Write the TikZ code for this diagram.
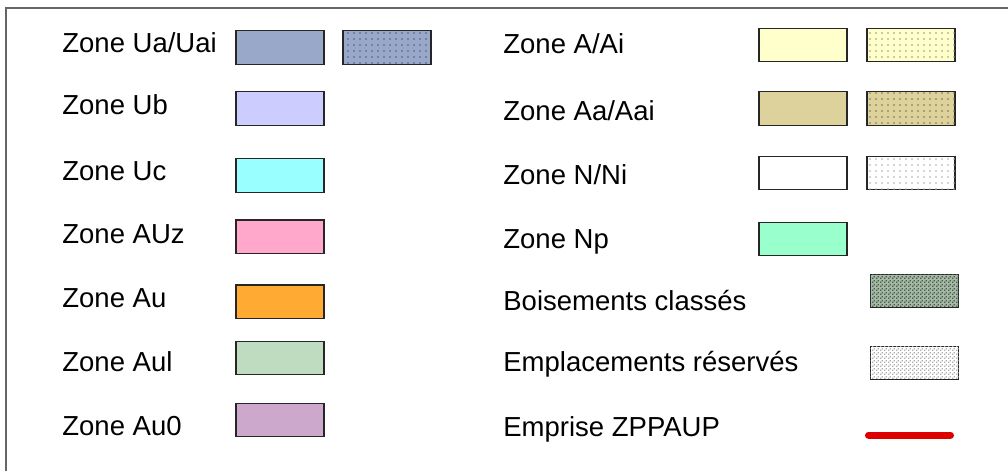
\documentclass[tikz,border=0pt]{standalone}
\usepackage{fontspec}
\setmainfont{Liberation Sans}
\usetikzlibrary{patterns.meta}

\definecolor{zUa}{RGB}{153,168,200}
\definecolor{zUb}{RGB}{204,204,255}
\definecolor{zUc}{RGB}{153,255,255}
\definecolor{zAUz}{RGB}{255,168,204}
\definecolor{zAu}{RGB}{255,170,51}
\definecolor{zAul}{RGB}{192,220,192}
\definecolor{zAuz}{RGB}{204,168,204}
\definecolor{zA}{RGB}{255,255,204}
\definecolor{zAa}{RGB}{221,210,155}
\definecolor{zN}{RGB}{255,255,255}
\definecolor{zNp}{RGB}{153,255,204}
\definecolor{zBois}{RGB}{165,185,165}
\definecolor{zppaup}{RGB}{221,0,0}
\definecolor{dUai}{RGB}{80,90,130}
\definecolor{dAi}{RGB}{150,150,120}
\definecolor{dAai}{RGB}{120,110,70}
\definecolor{dNi}{RGB}{170,170,170}
\definecolor{dBois}{RGB}{70,90,75}
\definecolor{dEmpl}{RGB}{175,175,175}

\tikzdeclarepattern{
  name=zonedots,
  type=uncolored,
  bounding box={(-0.5pt,-0.5pt) and (0.5pt,0.5pt)},
  tile size={(3pt,3pt)},
  code={\fill (0pt,0pt) circle (0.4pt);}
}
\tikzdeclarepattern{
  name=woods,
  type=uncolored,
  bounding box={(0pt,0pt) and (2pt,2pt)},
  tile size={(2pt,2pt)},
  code={\fill (0pt,0pt) rectangle (0.8pt,0.8pt); \fill (1pt,1pt) rectangle (1.8pt,1.8pt);}
}

\def \boxw {44pt}
\def \boxh {16.8pt}
\def \leftx {62}
\def \rightx {503}
\tikzstyle{legend}=[anchor=base west, inner sep=0pt, font=\fontsize{13.75}{16}\selectfont]
\tikzstyle{zonebox}=[rectangle, draw=black!85, line width=0.6pt, minimum width=\boxw, minimum height=\boxh, inner sep=0pt]
\tikzset{hatched/.style={postaction={pattern=zonedots, pattern color=#1}},
         textured/.style={postaction={pattern=woods, pattern color=#1}}}

\begin{document}
\begin{tikzpicture}[x=0.5pt, y=-0.5pt]

\clip (0, 0) rectangle (1008, 471);
\draw[black!60, line width=0.75pt] (6, 8) rectangle (1040, 500);

% left column
\foreach \z/\txt/\ty/\by/\col in {Ua/{Ua/Uai}/52.5/47.5/zUa, Ub/Ub/114.3/108.5/zUb, Uc/Uc/180.7/175.5/zUc,
        AUz/AUz/243.3/236.7/zAUz, Au/Au/307.3/301.8/zAu, Aul/Aul/371.7/358/zAul, Auz/Au0/435/420/zAuz}
{
    \node[legend] (L\z) at (\leftx, \ty) {Zone \txt};
    \node[zonebox, fill=\col] (B\z) at (280, \by) {};
}
\node[zonebox, fill=zUa, hatched=dUai] (BUai) at (387, 47.5) {};

% right column
\foreach \z/\txt/\ty/\by/\col in {A/{A/Ai}/54/45/zA, Aa/{Aa/Aai}/120/108.5/zAa, N/{N/Ni}/184/173/zN, Np/Np/248/239/zNp}
{
    \node[legend] (L\z) at (\rightx, \ty) {Zone \txt};
    \node[zonebox, fill=\col] (B\z) at (803, \by) {};
}
\node[zonebox, fill=zA, hatched=dAi] (BAi) at (911, 45) {};
\node[zonebox, fill=zAa, hatched=dAai] (BAai) at (911, 108.5) {};
\node[zonebox, fill=zN, hatched=dNi] (BNi) at (911, 173) {};

\node[legend] (LBois) at (\rightx, 310.7) {Boisements classés};
\node[zonebox, fill=zBois, textured=dBois] (BBois) at (914.5, 291) {};

\node[legend] (LEmpl) at (\rightx, 371.7) {Emplacements réservés};
\node[zonebox, fill=white, textured=dEmpl] (BEmpl) at (914.5, 363) {};

\node[legend] (LZppaup) at (\rightx, 436.7) {Emprise ZPPAUP};
\coordinate (Z1) at (868.5, 435);
\coordinate (Z2) at (950.5, 435);
\draw[zppaup, line width=3.5pt, line cap=round] (Z1) -- (Z2);

\end{tikzpicture}
\end{document}
